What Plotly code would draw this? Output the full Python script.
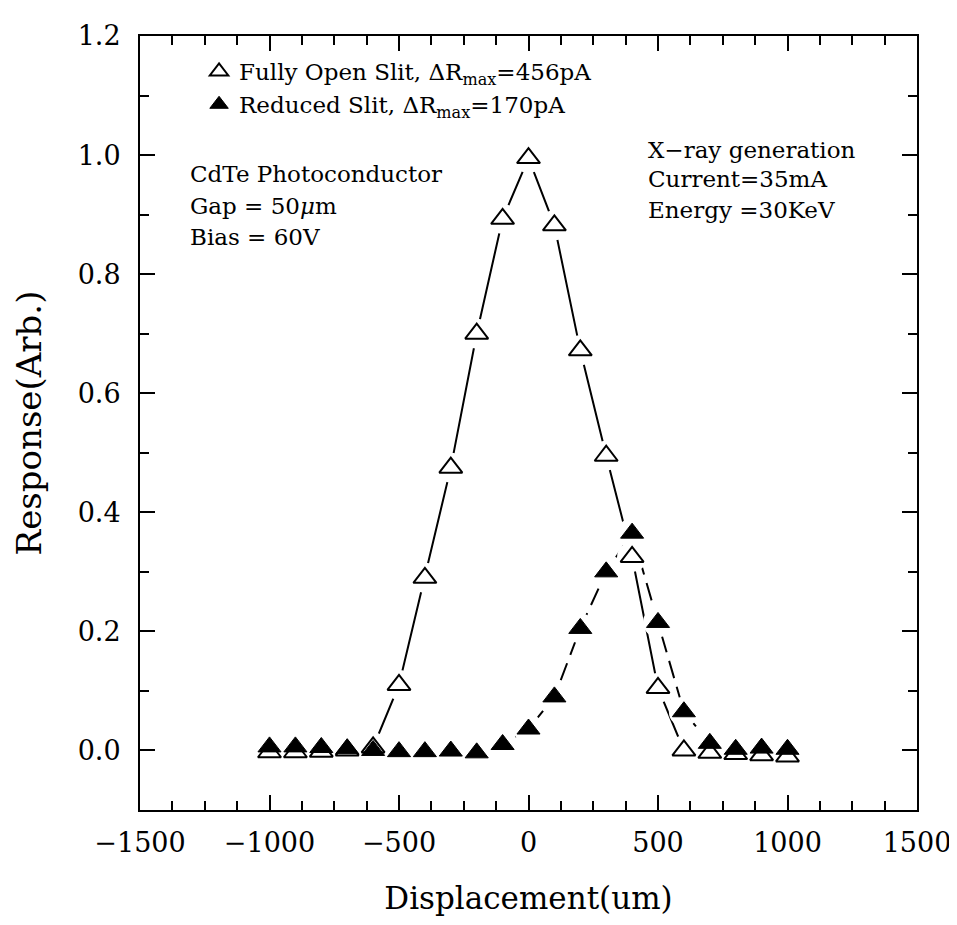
import plotly.graph_objects as go

displacement = [-1000, -900, -800, -700, -600, -500, -400, -300, -200, -100, 0,
                100, 200, 300, 400, 500, 600, 700, 800, 900, 1000]
open_slit = [-0.003, -0.003, -0.002, 0.0, 0.005, 0.11, 0.29, 0.475, 0.70, 0.893, 0.995,
             0.882, 0.672, 0.495, 0.325, 0.105, 0.0, -0.004, -0.006, -0.008, -0.01]
reduced_slit = [0.006, 0.006, 0.005, 0.003, 0.0, -0.002, -0.002, -0.001, -0.004, 0.01, 0.036,
                0.09, 0.205, 0.30, 0.365, 0.215, 0.065, 0.012, 0.002, 0.004, 0.002]

legend_open = "Fully Open Slit, ΔR<sub>max</sub>=456pA"
legend_reduced = "Reduced Slit, ΔR<sub>max</sub>=170pA"

FONT = "DejaVu Serif"
fig = go.Figure()

# connecting lines
fig.add_trace(go.Scatter(x=displacement, y=open_slit, mode="lines",
                         line=dict(color="black", width=2), showlegend=False, hoverinfo="skip"))
fig.add_trace(go.Scatter(x=displacement, y=reduced_slit, mode="lines",
                         line=dict(color="black", width=2, dash="18px,9px"), showlegend=False, hoverinfo="skip"))
# white halos to leave gaps around markers
for ys in (open_slit, reduced_slit):
    fig.add_trace(go.Scatter(x=displacement, y=ys, mode="markers",
                             marker=dict(symbol="circle", size=30, color="white", line=dict(width=0)),
                             showlegend=False, hoverinfo="skip"))
# markers
fig.add_trace(go.Scatter(x=displacement, y=open_slit, mode="markers", name=legend_open,
                         marker=dict(symbol="triangle-up-open", size=20, color="black",
                                     line=dict(color="black", width=2))))
fig.add_trace(go.Scatter(x=displacement, y=reduced_slit, mode="markers", name=legend_reduced,
                         marker=dict(symbol="triangle-up", size=20, color="black",
                                     line=dict(color="black", width=1))))

def ann(text, x, y):
    fig.add_annotation(text=text, x=x, y=y, xref="paper", yref="paper", showarrow=False,
                       xanchor="left", yanchor="middle", font=dict(family=FONT, size=23, color="black"))

ann("CdTe Photoconductor", 0.062, 0.822)
ann("Gap = 50<i>μ</i>m", 0.062, 0.780)
ann("Bias = 60V", 0.062, 0.740)
ann("X−ray generation", 0.651, 0.853)
ann("Current=35mA", 0.651, 0.815)
ann("Energy =30KeV", 0.651, 0.775)

axis_common = dict(showline=True, linecolor="black", linewidth=2, mirror="ticks",
                   ticks="inside", ticklen=15, tickwidth=2, tickcolor="black",
                   showgrid=False, zeroline=False,
                   tickfont=dict(family=FONT, size=27, color="black"))

fig.update_xaxes(range=[-1500, 1500], tick0=-1500, dtick=500, ticklabelstandoff=8,
                 minor=dict(dtick=125, ticks="inside", ticklen=9, tickwidth=1.5, tickcolor="black", showgrid=False),
                 title=dict(text="Displacement(um)", font=dict(family=FONT, size=31, color="black"), standoff=30),
                 **axis_common)
fig.update_yaxes(range=[-0.1, 1.2], tick0=0, dtick=0.2, tickformat=".1f", ticklabelstandoff=12,
                 minor=dict(dtick=0.1, ticks="inside", ticklen=9, tickwidth=1.5, tickcolor="black", showgrid=False),
                 title=dict(text="Response(Arb.)", font=dict(family=FONT, size=34, color="black"), standoff=26),
                 **axis_common)

fig.update_layout(
    width=957, height=925,
    margin=dict(l=132, r=48, t=17, b=123),
    paper_bgcolor="white", plot_bgcolor="white",
    legend=dict(x=0.076, y=0.982, xanchor="left", yanchor="top", bgcolor="rgba(0,0,0,0)",
                font=dict(family=FONT, size=23, color="black"), tracegroupgap=0,
                itemwidth=30),
)

fig.write_html("out.html")
